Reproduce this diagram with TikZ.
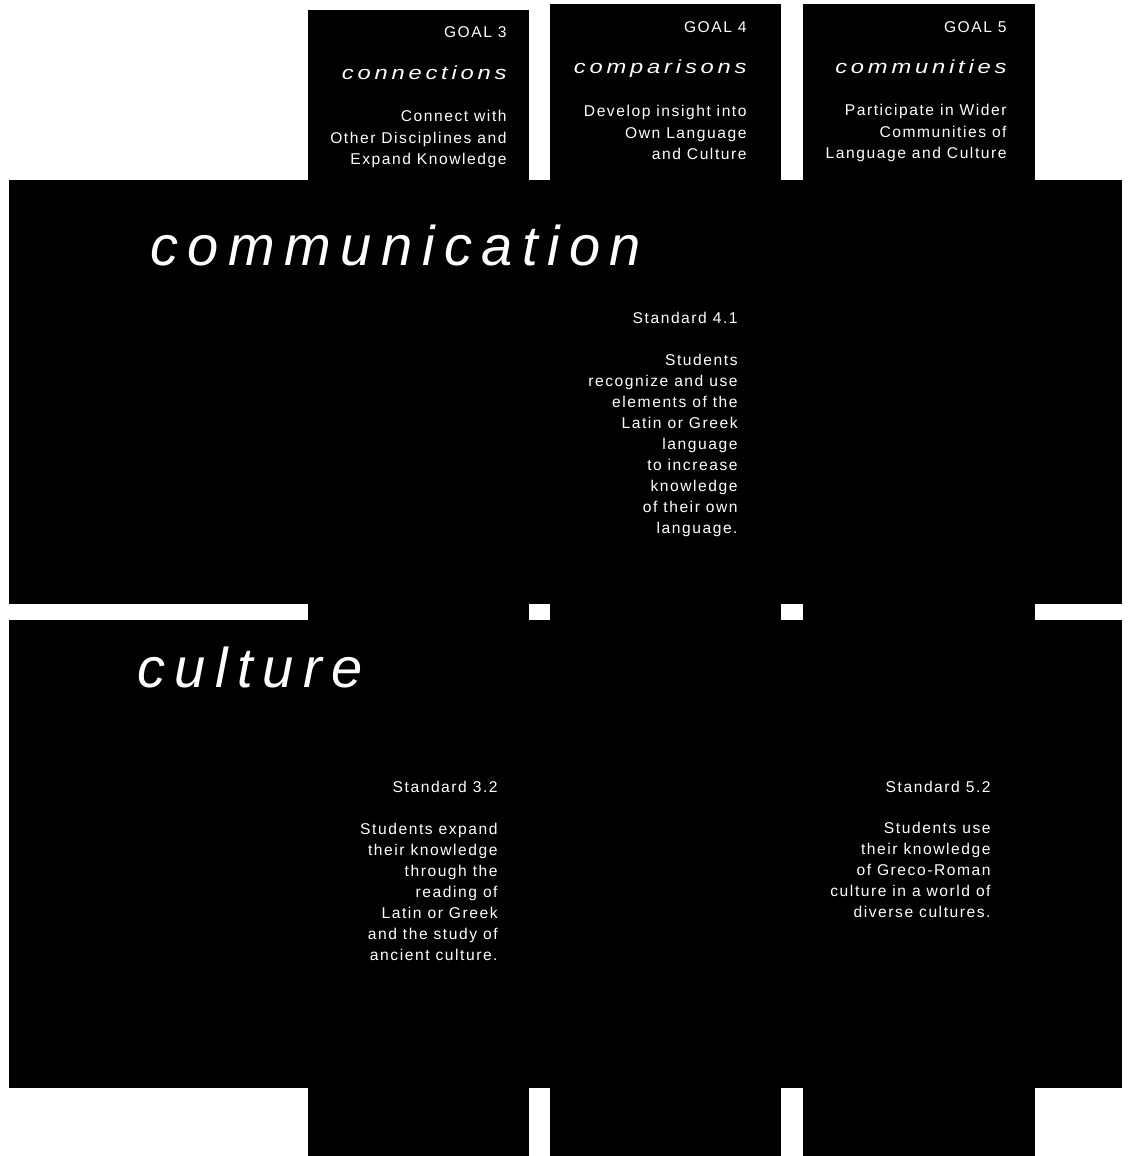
\documentclass[tikz,border=0pt]{standalone}
\usepackage{fontspec}
\setmainfont{Liberation Sans}
\usepackage{xcolor}
\usepackage{tikz}
\usetikzlibrary{positioning}
\newfontfamily\spaced[LetterSpace=10]{Liberation Sans}
\newfontfamily\widespaced[LetterSpace=17]{Liberation Sans}
\newfontfamily\goalspaced[LetterSpace=16]{Liberation Sans}
\definecolor{boardink}{RGB}{0,0,0}
\definecolor{boardtext}{RGB}{255,255,255}
\newcommand{\goalname}[1]{\scalebox{1.25}[1]{\goalspaced\itshape #1}}

\begin{document}
\begin{tikzpicture}[x=0.5pt,y=-0.5pt,
  goalhead/.style={anchor=base east,inner sep=0pt,text=boardtext,font=\fontsize{7.8}{11}\spaced},
  goalword/.style={anchor=base east,inner sep=0pt,text=boardtext,font=\fontsize{9.5}{11}\goalspaced},
  goaltxt/.style={anchor=north east,inner sep=0pt,align=right,text=boardtext,font=\fontsize{7.8}{10.75}\spaced},
  stdtxt/.style={anchor=north east,inner sep=0pt,align=right,text=boardtext,font=\fontsize{7.8}{10.5}\spaced},
  bigtitle/.style={anchor=base west,inner sep=0pt,text=boardtext,font=\fontsize{28}{32}\widespaced\itshape}]
  \useasboundingbox (0,0) rectangle (1129,1156);
  \fill[boardink] (308,10) rectangle (529,1156);
  \fill[boardink] (550,4) rectangle (781,1156);
  \fill[boardink] (803,4) rectangle (1035,1156);
  \fill[boardink] (9,180) rectangle (1122,604);
  \fill[boardink] (9,620) rectangle (1122,1088);
  \node[goalhead] (goalthree) at (507,38) {GOAL 3};
  \node[goalword] (connname) at (507,80) {\goalname{connections}};
  \node[goaltxt] (conntxt) at (507,110) {Connect with\\Other Disciplines and\\Expand Knowledge};
  \node[goalhead] (goalfour) at (747,33) {GOAL 4};
  \node[goalword] (compname) at (747,74) {\goalname{comparisons}};
  \node[goaltxt] (comptxt) at (747,105) {Develop insight into\\Own Language\\and Culture};
  \node[goalhead] (goalfive) at (1007,33) {GOAL 5};
  \node[goalword] (commname) at (1007,74) {\goalname{communities}};
  \node[goaltxt] (commtxt) at (1007,104) {Participate in Wider\\Communities of\\Language and Culture};
  \node[bigtitle] (communication) at (150,265) {communication};
  \node[bigtitle] (culture) at (137,687) {culture};
  \node[stdtxt] (stdfourone) at (738,312) {Standard 4.1};
  \node[stdtxt] (stdfouronetxt) at (738,354) {Students\\recognize and use\\elements of the\\Latin or Greek\\language\\to increase\\knowledge\\of their own\\language.};
  \node[stdtxt] (stdthreetwo) at (498,781) {Standard 3.2};
  \node[stdtxt] (stdthreetwotxt) at (498,823) {Students expand\\their knowledge\\through the\\reading of\\Latin or Greek\\and the study of\\ancient culture.};
  \node[stdtxt] (stdfivetwo) at (991,781) {Standard 5.2};
  \node[stdtxt] (stdfivetwotxt) at (991,822) {Students use\\their knowledge\\of Greco-Roman\\culture in a world of\\diverse cultures.};
\end{tikzpicture}
\end{document}
